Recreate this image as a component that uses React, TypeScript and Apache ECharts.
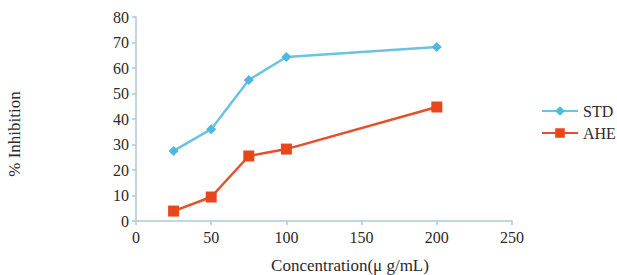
import React, { useEffect, useRef } from "react";
import * as echarts from "echarts";

const concentrations = [25, 50, 75, 100, 200];
const stdValues = [27.5, 36, 55.3, 64.3, 68.2];
const aheValues = [3.9, 9.4, 25.5, 28.2, 44.7];
const seriesNames = ["STD", "AHE"];

const FONT = "Liberation Serif";
const AXIS_COLOR = "#a9cbd9";
const TEXT_COLOR = "#2a2a2a";

export default function App() {
  const ref = useRef<HTMLDivElement>(null);
  useEffect(() => {
    if (!ref.current) return;
    const chart = echarts.init(ref.current, null, { renderer: "svg" });
    const toPairs = (vals: number[]) => concentrations.map((c, i) => [c, vals[i]]);
    chart.setOption({
      animation: false,
      backgroundColor: "#ffffff",
      textStyle: { fontFamily: FONT },
      grid: { left: 136, right: 105, top: 17, bottom: 54, containLabel: false, outerBoundsMode: "none" },
      legend: {
        orient: "vertical",
        left: 536,
        top: 98,
        itemWidth: 36,
        itemHeight: 12,
        itemGap: 6,
        data: seriesNames,
        textStyle: { fontFamily: FONT, fontSize: 16, color: TEXT_COLOR },
      },
      graphic: [
        {
          type: "text",
          x: 14,
          y: 134,
          rotation: Math.PI / 2,
          style: {
            text: "% Inhibition",
            fontFamily: FONT,
            fontSize: 17,
            fill: TEXT_COLOR,
            align: "center",
            verticalAlign: "middle",
          },
        },
      ],
      xAxis: {
        type: "value",
        min: 0,
        max: 250,
        interval: 50,
        name: "Concentration(μ g/mL)",
        nameLocation: "middle",
        nameGap: 36,
        nameTextStyle: { fontFamily: FONT, fontSize: 17, color: TEXT_COLOR, padding: [0, 0, 0, 52] },
        axisLine: { show: true, lineStyle: { color: AXIS_COLOR, width: 1.5 } },
        axisTick: { show: true, length: 4, lineStyle: { color: AXIS_COLOR, width: 1.5 } },
        axisLabel: { fontFamily: FONT, fontSize: 16, color: TEXT_COLOR, margin: 8 },
        splitLine: { show: false },
      },
      yAxis: {
        type: "value",
        min: 0,
        max: 80,
        interval: 10,
        axisLine: { show: true, lineStyle: { color: AXIS_COLOR, width: 1.5 } },
        axisTick: { show: true, length: 4, lineStyle: { color: AXIS_COLOR, width: 1.5 } },
        axisLabel: { fontFamily: FONT, fontSize: 16, color: TEXT_COLOR, margin: 7 },
        splitLine: { show: false },
      },
      series: [
        {
          name: seriesNames[0],
          type: "line",
          data: toPairs(stdValues),
          symbol: "diamond",
          symbolSize: 10,
          lineStyle: { color: "#6cc3e0", width: 2.5 },
          itemStyle: { color: "#4db8e2" },
        },
        {
          name: seriesNames[1],
          type: "line",
          data: toPairs(aheValues),
          symbol: "rect",
          symbolSize: 11,
          lineStyle: { color: "#e5502a", width: 2.5 },
          itemStyle: { color: "#e8461c" },
        },
      ],
    });
    return () => chart.dispose();
  }, []);
  return <div ref={ref} style={{ width: 617, height: 275, position: "absolute", left: 0, top: 0 }} />;
}
